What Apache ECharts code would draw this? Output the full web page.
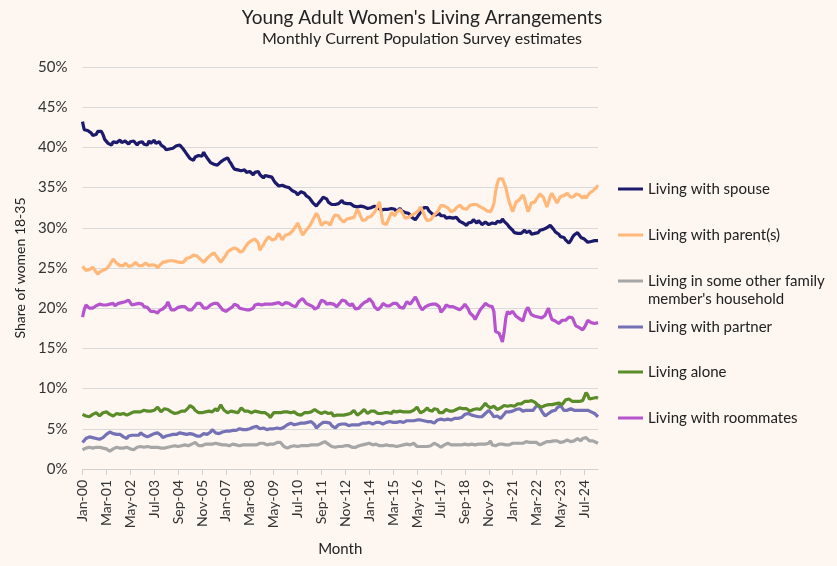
<!DOCTYPE html>
<html><head><meta charset="utf-8">
<script src="https://cdn.jsdelivr.net/npm/echarts@6/dist/echarts.min.js"></script>
<style>html,body{margin:0;padding:0;background:#fdf6f1;}#c{width:837px;height:566px;}</style>
</head><body><div id="c"></div><script>
const MONTHS = ['Jan','Feb','Mar','Apr','May','Jun','Jul','Aug','Sep','Oct','Nov','Dec'];
const START_YEAR = 2000;
const N_MONTHS = 303;
const categories = [];
for (let i = 0; i < N_MONTHS; i++) {
  const y = START_YEAR + Math.floor(i / 12);
  categories.push(MONTHS[i % 12] + '-' + String(y % 100).padStart(2, '0'));
}
const seriesNames = ['Living with spouse','Living with parent(s)',"Living in some other family member's household",'Living with partner','Living alone','Living with roommates'];
const seriesColors = ['#1c1a6b','#ffb87a','#a6a6a6','#7472b5','#5b8c2a','#b554cc'];

const spouse = [
43.2,42.2,42.1,42.1,42.0,41.8,41.5,41.3,41.6,42.0,42.2,42.0,
41.6,41.0,40.8,40.5,40.4,40.3,40.7,40.5,40.6,40.5,40.9,40.6,
40.5,40.8,40.6,40.4,40.7,40.5,40.8,40.6,40.3,40.6,40.5,40.7,
40.4,40.6,40.3,40.8,40.5,40.6,40.9,40.5,40.4,40.7,40.3,40.5,
40.0,39.7,39.9,39.8,40.0,39.9,40.1,40.2,40.0,40.3,40.1,39.8,
39.5,39.2,38.9,38.6,38.5,38.4,38.8,38.6,39.0,39.2,38.9,39.4,
39.0,38.7,38.4,38.1,38.0,37.9,38.1,37.8,38.0,38.2,38.3,38.5,
38.6,38.7,38.3,38.0,37.6,37.3,37.4,37.2,37.3,37.1,37.0,37.2,
36.9,36.8,37.0,36.8,36.6,36.9,37.1,37.0,36.6,36.4,36.2,36.5,
36.7,36.4,36.6,36.3,35.9,35.6,35.4,35.2,35.4,35.3,35.2,35.1,
34.9,35.0,34.9,34.6,34.7,34.4,34.1,34.3,34.5,34.7,34.3,34.0,
33.8,33.7,33.4,33.1,32.9,32.7,33.0,33.2,33.5,33.8,34.0,33.6,
33.2,33.1,32.9,32.7,32.9,33.1,33.0,33.2,33.4,33.1,33.2,33.0,
32.8,33.0,32.9,32.7,32.8,32.6,32.8,32.7,32.5,32.6,32.7,32.4,
32.3,32.5,32.6,32.7,32.8,32.5,32.4,32.2,32.4,32.3,32.5,32.3,
32.1,32.4,32.2,32.3,32.0,32.2,32.4,32.1,32.2,31.9,32.1,31.8,
31.6,31.3,31.1,31.0,31.3,31.6,31.8,32.2,32.5,32.3,32.5,32.1,
31.9,31.7,31.8,31.6,31.5,31.8,31.5,31.3,31.5,31.2,31.4,31.3,
31.1,31.2,31.0,31.3,31.1,30.8,31.0,30.6,30.5,30.3,30.6,30.8,
30.7,31.0,30.8,30.6,30.9,30.7,30.4,30.5,30.7,30.6,30.4,30.5,
30.6,30.7,30.5,30.8,30.9,30.7,31.1,30.8,30.6,30.4,30.1,30.0,
29.7,29.4,29.2,29.3,29.5,29.3,29.5,29.7,29.4,29.3,29.6,29.2,
29.0,29.3,29.5,29.4,29.7,29.5,29.8,29.6,30.0,29.9,30.3,30.1,
29.8,29.5,29.3,29.2,28.9,28.7,28.8,28.5,28.3,28.1,28.4,28.8,
29.1,29.0,29.4,29.1,28.8,28.9,28.6,28.4,28.2,28.1,28.3,28.2,
28.4,28.3,28.4];

const parents = [
25.2,25.0,24.7,24.5,24.8,25.0,25.1,24.8,24.5,24.2,24.5,24.6,
24.7,24.8,24.9,25.0,25.4,25.8,26.1,25.9,25.6,25.4,25.3,25.5,
25.3,25.6,25.4,25.2,25.1,25.3,25.5,25.7,25.5,25.3,25.1,25.3,
25.4,25.6,25.5,25.3,25.5,25.4,25.6,25.3,25.0,25.3,25.5,25.7,
25.6,25.8,25.7,25.9,25.8,25.9,26.0,25.8,25.9,25.7,25.9,25.7,
25.9,26.2,26.4,26.3,26.5,26.6,26.7,26.5,26.3,26.1,25.9,25.7,
25.9,26.2,26.4,26.6,26.8,26.9,26.6,26.3,26.0,25.7,26.0,26.3,
26.6,27.0,27.1,27.3,27.4,27.5,27.6,27.3,27.0,26.8,27.1,27.5,
27.8,28.1,28.2,28.4,28.5,28.6,28.7,28.1,27.2,27.6,27.9,28.3,
28.6,28.9,28.7,28.5,28.3,28.6,29.0,29.3,28.9,28.5,28.8,29.1,
29.3,29.2,29.4,29.6,29.9,30.2,30.6,30.1,29.6,29.1,29.4,29.7,
29.9,30.2,30.6,31.0,31.4,31.8,31.5,30.9,30.3,30.5,30.7,30.6,
30.6,30.3,30.8,31.3,31.6,31.8,31.5,31.1,30.9,30.7,30.9,31.1,
31.3,31.2,31.0,31.3,31.8,32.3,31.9,31.4,30.9,30.7,31.0,31.3,
31.5,31.4,31.6,31.9,32.3,32.8,33.2,31.8,30.6,30.5,30.4,30.9,
31.4,31.9,31.7,31.5,31.9,32.1,32.3,32.0,31.6,31.2,31.4,31.3,
31.5,31.6,31.6,31.8,32.0,32.2,32.6,32.2,31.7,31.2,30.9,30.7,
31.0,31.3,31.6,31.7,32.0,32.4,32.8,32.9,32.7,32.6,32.5,32.3,
32.0,31.9,32.2,32.5,32.7,32.8,32.6,32.4,32.5,32.3,32.5,32.8,
33.0,32.9,33.1,32.9,32.7,32.6,32.6,32.4,32.2,32.1,32.0,32.0,
32.4,33.0,34.5,35.5,36.1,36.3,36.1,35.9,35.0,34.0,33.2,32.6,
32.0,32.6,33.2,33.1,33.5,33.8,34.1,33.6,32.8,32.0,32.5,33.1,
33.3,33.2,33.6,33.9,34.2,34.3,33.8,33.2,32.6,33.2,33.9,34.3,
33.9,33.5,33.1,33.5,33.9,34.1,34.0,34.2,34.3,34.1,33.8,33.6,
33.9,34.2,34.0,34.1,33.9,33.7,34.0,33.7,34.0,34.3,34.4,34.6,
34.8,35.0,35.3];

const otherFamily = [
2.4,2.5,2.6,2.6,2.7,2.7,2.6,2.7,2.7,2.8,2.7,2.7,
2.6,2.6,2.5,2.4,2.2,2.3,2.5,2.6,2.7,2.7,2.6,2.7,
2.6,2.6,2.7,2.6,2.5,2.4,2.4,2.5,2.7,2.8,2.8,2.7,
2.7,2.7,2.8,2.7,2.7,2.7,2.7,2.8,2.7,2.6,2.6,2.5,
2.6,2.6,2.7,2.7,2.8,2.8,2.9,2.8,2.8,2.9,2.9,3.0,
3.0,2.9,2.9,3.0,3.1,3.3,3.3,3.1,2.9,2.8,2.9,3.0,
3.1,3.2,3.1,3.1,3.1,3.1,3.2,3.2,3.1,3.0,3.0,3.1,
3.0,2.9,2.9,3.0,3.1,3.0,3.0,3.0,2.9,3.0,3.0,3.1,
3.0,3.0,3.0,3.1,3.0,2.9,3.0,3.1,3.2,3.3,3.2,3.1,
3.0,3.0,3.1,3.2,3.1,3.2,3.3,3.4,3.3,3.1,2.8,2.6,
2.6,2.7,2.8,2.8,2.9,2.8,2.8,2.9,2.9,2.8,2.9,3.0,
2.9,3.0,3.0,2.9,3.0,3.1,3.0,3.1,3.2,3.3,3.4,3.3,
3.1,2.9,2.8,2.8,2.7,2.8,2.8,2.9,2.8,2.8,2.9,3.0,
2.9,2.8,2.7,2.6,2.7,2.8,2.9,3.0,3.0,3.0,3.1,3.1,
3.2,3.1,3.0,3.1,3.1,3.0,2.9,2.9,2.9,3.0,3.0,2.9,
2.9,3.0,2.9,2.9,2.8,2.9,2.9,2.9,3.0,3.1,3.1,3.0,
3.0,3.1,3.2,3.1,2.8,2.7,2.8,2.8,2.8,2.9,2.8,2.8,
2.9,3.1,3.2,3.3,3.0,2.8,2.7,2.8,3.0,3.1,3.2,3.1,
3.0,2.9,3.0,3.1,3.0,2.9,3.0,3.0,3.1,3.0,3.0,3.1,
3.1,3.1,3.0,3.0,3.1,3.1,3.1,3.2,3.1,3.1,3.2,3.5,
3.0,2.9,2.9,3.0,3.1,3.1,3.1,3.0,3.0,3.1,3.0,3.2,
3.2,3.1,3.2,3.1,3.2,3.3,3.2,3.3,3.4,3.3,3.3,3.2,
3.3,3.4,3.3,3.1,3.0,3.0,3.2,3.3,3.4,3.3,3.4,3.4,
3.5,3.6,3.5,3.4,3.3,3.2,3.4,3.5,3.6,3.6,3.4,3.3,
3.5,3.7,3.8,3.6,3.5,3.8,4.0,3.9,3.7,3.5,3.4,3.5,
3.4,3.3,3.2];

const partner = [
3.3,3.5,3.8,3.9,4.0,4.0,3.9,3.9,3.8,3.7,3.7,3.8,
3.9,4.1,4.3,4.5,4.6,4.5,4.4,4.3,4.3,4.2,4.3,4.2,
4.0,3.9,3.8,4.1,4.3,4.2,4.1,4.2,4.3,4.2,4.5,4.3,
4.2,4.1,4.0,4.1,4.2,4.3,4.4,4.6,4.5,4.3,4.2,3.9,
4.0,4.1,4.3,4.2,4.2,4.3,4.4,4.3,4.4,4.5,4.4,4.4,
4.4,4.3,4.4,4.4,4.5,4.3,4.2,4.1,4.2,4.1,4.3,4.4,
4.4,4.3,4.4,4.6,4.9,4.7,4.5,4.4,4.4,4.5,4.6,4.6,
4.7,4.6,4.7,4.8,4.8,4.7,4.8,4.9,5.0,5.1,4.9,4.8,
4.9,4.9,5.0,5.1,5.2,5.2,5.3,5.1,5.0,5.0,5.1,5.0,
4.9,5.0,5.0,5.1,5.0,5.0,5.1,5.1,5.0,5.1,5.2,5.4,
5.5,5.7,5.7,5.6,5.5,5.5,5.6,5.7,5.7,5.6,5.7,5.8,
5.8,5.9,5.9,5.8,5.5,5.1,5.2,5.5,5.6,5.8,5.9,5.8,
5.9,5.7,5.4,5.2,5.1,5.3,5.5,5.6,5.6,5.5,5.6,5.5,
5.4,5.5,5.5,5.6,5.5,5.4,5.5,5.6,5.7,5.6,5.7,5.7,
5.8,5.7,5.6,5.7,5.8,5.7,5.8,5.7,5.6,5.7,5.8,6.0,
5.9,5.8,5.8,5.7,5.8,6.0,5.9,5.8,5.8,6.0,6.0,5.9,
6.0,6.1,6.0,5.9,6.1,6.2,6.1,6.0,6.0,5.8,5.9,5.8,
5.9,5.8,5.7,5.9,6.1,6.3,6.2,6.2,6.1,6.2,6.2,6.1,
6.1,6.2,6.3,6.4,6.3,6.3,6.4,6.6,6.8,6.9,6.9,6.7,
6.7,6.6,6.6,6.6,6.5,6.4,6.5,6.7,6.9,7.1,7.3,7.1,
6.8,6.5,6.5,6.6,6.4,6.3,6.2,6.8,7.1,7.0,7.1,7.2,
7.2,7.3,7.4,7.6,7.5,7.3,7.2,7.2,7.3,7.4,7.3,7.2,
7.3,7.6,7.8,8.0,7.6,7.2,6.9,6.6,6.7,6.9,7.1,7.2,
7.0,7.3,7.6,7.8,7.9,7.6,7.3,7.2,7.3,7.3,7.5,7.4,
7.3,7.4,7.3,7.4,7.3,7.4,7.3,7.2,7.3,7.2,7.1,7.0,
6.9,6.7,6.5];

const alone = [
6.8,6.7,6.6,6.6,6.5,6.6,6.8,6.9,7.0,6.8,6.6,6.8,
7.0,7.0,7.1,6.9,6.8,6.7,6.6,6.8,6.9,6.9,6.8,6.9,
6.9,6.8,6.7,6.8,6.9,7.0,7.1,7.0,7.1,7.2,7.1,7.2,
7.3,7.4,7.2,7.1,7.2,7.0,7.3,7.5,7.7,7.4,7.1,7.3,
7.5,7.7,7.4,7.2,7.1,7.0,6.9,7.1,7.0,7.1,7.2,7.1,
7.2,7.4,7.6,7.9,8.0,7.6,7.3,7.1,7.0,7.1,7.0,7.1,
7.1,7.0,7.2,7.0,7.1,7.3,7.5,7.2,7.6,8.0,7.6,7.3,
7.1,7.0,7.1,7.2,7.0,7.1,6.9,7.0,7.3,7.6,7.4,7.2,
7.1,7.2,7.1,7.0,7.1,7.2,7.0,7.1,7.2,7.0,7.1,7.0,
6.9,6.7,6.4,6.6,7.0,7.1,7.0,7.2,7.0,6.9,7.1,7.0,
7.1,6.9,7.0,7.2,7.1,7.0,6.8,6.9,6.7,6.8,7.0,7.1,
7.0,7.1,7.1,7.2,7.4,7.3,7.1,7.0,6.9,6.9,7.1,7.0,
6.9,7.1,7.0,6.6,6.5,6.7,6.8,6.7,6.9,6.7,6.6,6.8,
6.7,6.9,7.1,7.3,7.1,6.7,6.9,7.0,7.1,7.4,7.2,6.9,
7.0,7.2,7.3,7.2,7.0,6.9,6.7,6.9,7.1,7.0,7.1,7.0,
7.0,6.9,7.2,7.3,7.1,7.0,7.2,7.0,7.1,7.2,7.1,7.3,
7.1,7.2,7.3,7.5,7.7,7.3,7.0,7.0,7.2,7.4,7.6,7.3,
7.1,7.2,7.5,7.7,7.4,7.0,6.9,7.0,7.2,7.4,7.3,7.2,
7.3,7.2,7.4,7.4,7.3,7.6,7.4,7.5,7.7,7.5,7.3,7.2,
7.2,7.4,7.4,7.5,7.3,7.4,7.5,7.9,8.2,7.9,7.7,7.6,
7.7,7.8,7.6,7.4,7.5,7.6,7.8,7.9,7.9,7.8,7.8,7.9,
7.9,7.8,8.0,8.1,8.0,8.1,8.3,8.4,8.3,8.4,8.5,8.5,
8.4,8.3,8.1,7.9,7.8,7.7,7.9,7.9,8.0,8.0,7.9,8.0,
8.0,8.1,8.0,8.2,8.3,8.0,8.3,8.6,8.5,8.7,8.5,8.4,
8.4,8.4,8.5,8.4,8.6,8.5,9.0,9.5,9.2,8.7,8.6,8.8,
8.7,8.9,8.8];

const roommates = [
18.9,19.8,20.4,20.2,20.0,19.8,20.0,20.2,20.3,20.4,20.5,20.3,
20.4,20.2,20.4,20.3,20.5,20.4,20.6,20.3,20.5,20.6,20.5,20.7,
20.6,20.8,20.9,21.0,20.7,20.4,20.2,20.5,20.7,20.6,20.4,20.5,
20.2,20.0,20.1,19.9,19.6,19.4,19.6,19.5,19.4,19.7,19.8,19.9,
19.9,20.3,20.8,20.3,19.8,19.6,19.8,20.0,20.1,20.3,20.2,20.1,
20.2,20.0,19.8,19.7,19.8,20.0,20.3,20.6,20.8,20.6,20.3,20.0,
19.9,20.0,20.2,20.4,20.5,20.6,20.7,20.6,20.4,20.1,19.8,19.6,
19.6,19.7,19.9,19.8,20.2,20.5,20.7,20.3,20.0,19.8,19.9,19.8,
19.8,19.9,19.8,19.9,20.0,20.4,20.3,20.5,20.6,20.4,20.3,20.5,
20.4,20.5,20.6,20.5,20.4,20.6,20.5,20.7,20.6,20.4,20.5,20.7,
20.8,20.6,20.4,20.3,20.1,20.2,20.6,20.9,21.1,21.2,20.9,20.6,
20.5,20.4,20.6,20.2,19.9,19.7,20.1,20.6,21.0,21.2,20.8,20.5,
20.5,20.6,20.4,20.5,20.3,20.2,20.4,20.7,21.0,21.2,20.9,20.6,
20.4,20.3,20.6,20.2,19.9,19.8,20.0,20.3,20.5,20.7,20.6,20.9,
21.2,21.0,20.7,20.2,20.0,19.8,19.7,20.2,20.6,20.5,20.3,20.2,
20.3,20.2,20.6,20.5,20.6,20.4,20.1,19.9,20.0,20.4,20.8,20.6,
20.5,20.8,21.1,21.4,21.0,20.5,20.1,19.8,20.0,20.2,20.2,20.4,
20.5,20.5,20.4,20.5,20.6,20.2,19.5,19.7,20.0,20.4,20.3,20.2,
20.1,20.2,20.2,20.0,19.9,19.8,19.9,20.2,20.5,20.3,19.9,19.4,
19.2,19.0,18.6,19.0,19.4,19.8,20.0,20.3,20.6,20.5,20.3,20.2,
20.2,19.6,17.1,16.9,16.9,16.4,15.8,17.0,18.8,19.6,19.3,19.1,
19.6,19.3,19.0,18.9,18.7,18.5,18.4,19.2,19.8,20.1,19.6,19.2,
19.1,19.0,19.0,18.9,18.7,18.8,18.7,19.1,19.6,20.0,19.2,18.6,
18.5,18.4,18.3,18.1,18.3,18.5,18.6,18.5,18.7,18.9,19.1,18.8,
18.3,17.8,17.9,17.6,17.4,17.3,17.6,18.0,18.5,18.4,18.2,18.2,
18.1,18.2,18.2];

const seriesData = [spouse, parents, otherFamily, partner, alone, roommates];
const Y_MIN = 0, Y_MAX = 50, Y_STEP = 5;
const legendTops = [180, 226, 254, 318, 363, 409];

const FONT = 'Lato';
const chart = echarts.init(document.getElementById('c'), null, {renderer: 'canvas'});
chart.setOption({
  backgroundColor: '#fdf6f1',
  animation: false,
  title: [
    {text: "Young Adult Women's Living Arrangements", left: 422, top: 8, textAlign: 'center', padding: 0,
     textStyle: {fontFamily: FONT, fontSize: 19, fontWeight: 'normal', color: '#222'}},
    {text: 'Monthly Current Population Survey estimates', left: 422, top: 31, textAlign: 'center', padding: 0,
     textStyle: {fontFamily: FONT, fontSize: 16, fontWeight: 'normal', color: '#222'}}
  ],
  legend: seriesNames.map((n, i) => ({
    data: [n], orient: 'vertical', left: 618, top: legendTops[i], padding: 0,
    itemWidth: 25, itemHeight: 3, icon: 'rect', selectedMode: false,
    formatter: i === 2 ? (name => '\n' + name.replace(' member', '\nmember')) : '{name}',
    textStyle: {fontFamily: FONT, fontSize: 15, color: '#222', lineHeight: 18}
  })),
  grid: {left: 82.5, right: 239, top: 67, bottom: 97, containLabel: false},
  xAxis: {
    type: 'category', data: categories, boundaryGap: false,
    name: 'Month', nameLocation: 'middle', nameGap: 73,
    nameTextStyle: {fontFamily: FONT, fontSize: 15, color: '#222'},
    axisLine: {lineStyle: {color: '#d0d0d0', width: 1}},
    axisTick: {interval: 13, length: 6, lineStyle: {color: '#d0d0d0'}},
    axisLabel: {interval: 13, rotate: 90, margin: 11, fontFamily: FONT, fontSize: 14, color: '#333'},
    splitLine: {show: false}
  },
  yAxis: {
    type: 'value', min: Y_MIN, max: Y_MAX, interval: Y_STEP,
    name: 'Share of women 18-35', nameLocation: 'middle', nameGap: 48, nameRotate: 90,
    nameTextStyle: {fontFamily: FONT, fontSize: 14, color: '#222'},
    axisLine: {show: false}, axisTick: {show: false},
    axisLabel: {formatter: '{value}%', margin: 15, fontFamily: FONT, fontSize: 15, color: '#333'},
    splitLine: {lineStyle: {color: '#d9d9d9', width: 1}}
  },
  series: seriesNames.map((n, i) => ({
    name: n, type: 'line', data: seriesData[i], showSymbol: false, symbol: 'none',
    color: seriesColors[i], lineStyle: {width: 3.2, color: seriesColors[i]}
  }))
});
</script></body></html>
